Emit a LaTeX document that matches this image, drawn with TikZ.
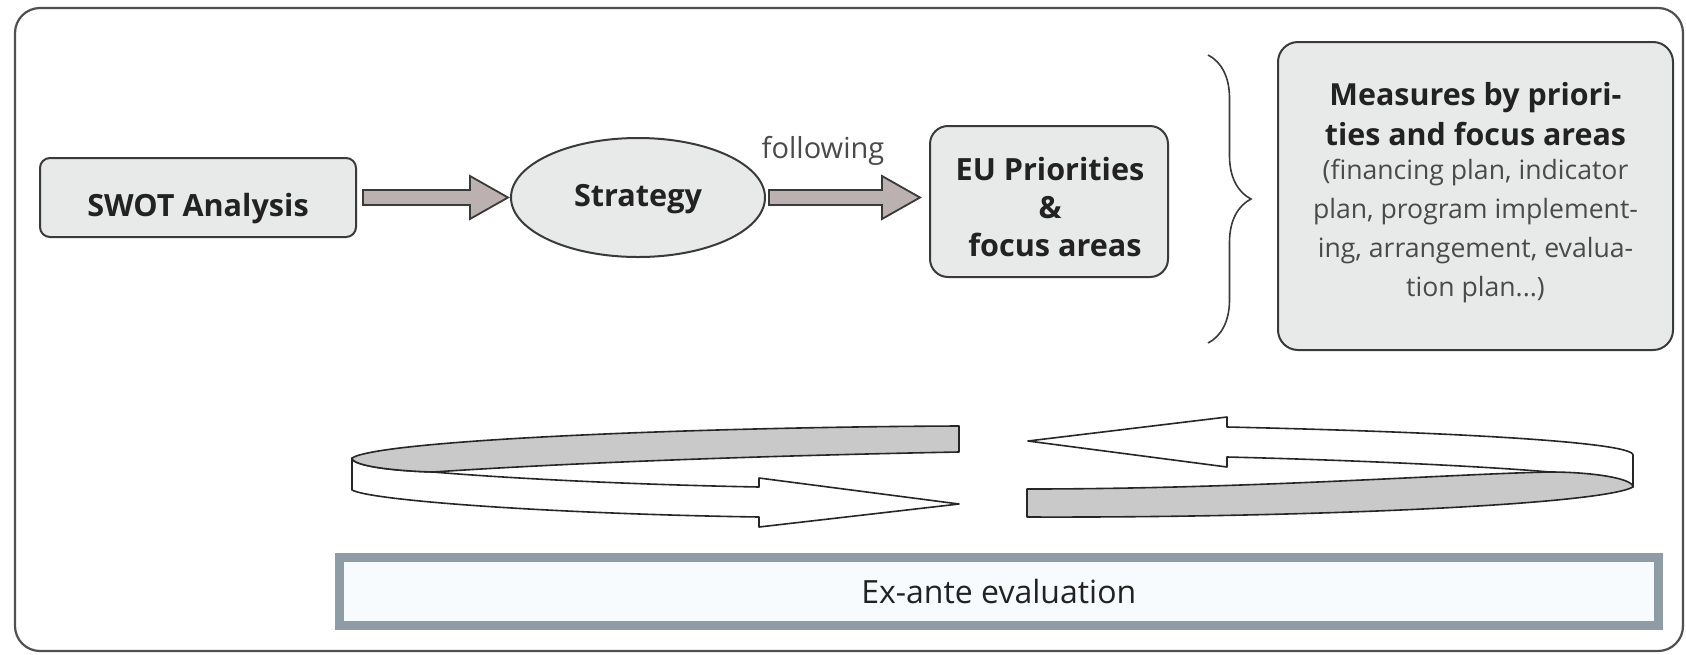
\documentclass[tikz,border=0pt]{standalone}
\usepackage{fontspec}
\setmainfont{Open Sans}
\usetikzlibrary{calc,decorations.pathreplacing,shapes.geometric}
\definecolor{boxfill}{HTML}{E8E9E9}
\definecolor{boxline}{HTML}{3A3A3A}
\definecolor{arrfill}{HTML}{BCB1B1}
\definecolor{ribgrey}{HTML}{C9C9C9}
\definecolor{exline}{HTML}{8E9CA5}
\definecolor{exfill}{HTML}{F8FBFD}
\definecolor{framecol}{HTML}{505050}
\definecolor{txtdark}{HTML}{222222}
\definecolor{txtgrey}{HTML}{4A4A4A}
\tikzset{
  gbox/.style={draw=boxline, fill=boxfill, line width=1pt, rounded corners=5pt, inner sep=0pt, text=txtdark},
  gell/.style={draw=boxline, fill=boxfill, line width=1pt, ellipse, inner sep=0pt, text=txtdark},
  btxt/.style={text=txtdark, font=\fontsize{15.3pt}{19pt}\selectfont\bfseries, inner sep=0pt},
  blk/.style={draw=boxline, fill=arrfill, line width=0.9pt, line join=miter},
  rib/.style={draw=black!85, line width=0.8pt, line join=round},
  framebox/.style={draw=framecol, line width=1.1pt, rounded corners=12.5pt},
  exbox/.style={draw=exline, fill=exfill, line width=4.5pt, inner sep=0pt, text=txtdark, font=\fontsize{16pt}{19pt}\selectfont},
  bracestyle/.style={draw=boxline, line width=0.8pt, decorate, decoration={brace, amplitude=21.5pt}}
}
\newcommand\blockarrow[4]{%
  \path[blk] let \p1=($(#1)+(#3,0)$), \p2=($(#2)+(-#4,0)$) in
    (\x1,\y1+3.75pt) -- (\x2-19pt,\y1+3.75pt) -- (\x2-19pt,\y1+10.75pt) -- (\x2,\y1)
    -- (\x2-19pt,\y1-10.75pt) -- (\x2-19pt,\y1-3.75pt) -- (\x1,\y1-3.75pt) -- cycle;}
\begin{document}
\begin{tikzpicture}[x=0.5pt,y=-0.5pt]
\useasboundingbox (0,0) rectangle (1686,654);
\fill[white] (0,0) rectangle (1686,654);
\draw[framebox] (15,8) rectangle (1683,651);

% top row
\node[gbox, minimum width=158pt, minimum height=39.5pt, font=\fontsize{15.3pt}{18pt}\selectfont\bfseries, text height=18.5pt, text depth=0pt] (swot) at (198,197.5) {SWOT Analysis};
\node[gell, minimum width=127pt, minimum height=59.5pt, font=\fontsize{15.3pt}{18pt}\selectfont\bfseries, text height=13pt, text depth=4pt] (strat) at (638,197.5) {Strategy};
\node[gbox, rounded corners=9pt, minimum width=119pt, minimum height=75.5pt] (eu) at (1049,201.5) {};
\node[btxt, align=center] (eutxt) at (1050,207) {EU Priorities\\\&\\\hspace*{5pt}focus areas};
\node[text=txtgrey, font=\fontsize{14.5pt}{17pt}\selectfont, inner sep=0pt] (follow) at (823,151) {following};

\blockarrow{swot.east}{strat.west}{6}{2}
\blockarrow{strat.east}{eu.west}{3}{9}

% brace and measures box
\coordinate (bt) at (1208,55);
\coordinate (bb) at (1208,343);
\draw[bracestyle] (bt) -- (bb);
\node[gbox, rounded corners=10pt, minimum width=197.5pt, minimum height=154pt] (meas) at (1475.5,196) {};
\node[btxt, align=center, font=\fontsize{15.2pt}{20pt}\selectfont\bfseries] (mtitle) at (1475.5,114) {Measures by priori-\\ties and focus areas};
\node[text=txtgrey, align=center, inner sep=0pt, font=\fontsize{13.3pt}{19.4pt}\selectfont] (mbody) at (1475.5,231) {(financing plan, indicator\\plan, program implement-\\ing, arrangement, evalua-\\tion plan...)};

% left ribbon
\draw[rib, fill=white] (352,458) -- (352,490) .. controls (372,501) and (560,514) .. (759,517)
  -- (759,527) -- (959,504) -- (759,478) -- (759,487)
  .. controls (600,484) and (480,476) .. (433,472)
  .. controls (395,471) and (352,466) .. (352,458) -- cycle;
\draw[rib, fill=ribgrey] (959,426) .. controls (700,427) and (380,440) .. (352,458)
  .. controls (352,466) and (395,471) .. (433,472)
  .. controls (600,461) and (800,455) .. (959,452) -- cycle;

% right ribbon
\draw[rib, fill=white] (1028,441) -- (1227,417) -- (1227,427)
  .. controls (1450,432) and (1633,442) .. (1633,455) -- (1633,487)
  .. controls (1610,480) and (1580,474) .. (1550,472)
  .. controls (1480,466) and (1350,460) .. (1227,457) -- (1227,467) -- cycle;
\draw[rib, fill=ribgrey] (1027,489) .. controls (1250,489) and (1450,474) .. (1550,472)
  .. controls (1590,472) and (1633,478) .. (1633,487)
  .. controls (1600,505) and (1300,518) .. (1027,517) -- cycle;

% ex-ante box
\node[exbox, minimum width=659.25pt, minimum height=34.25pt] (exante) at (998.75,591.25) {Ex-ante evaluation};
\end{tikzpicture}
\end{document}
